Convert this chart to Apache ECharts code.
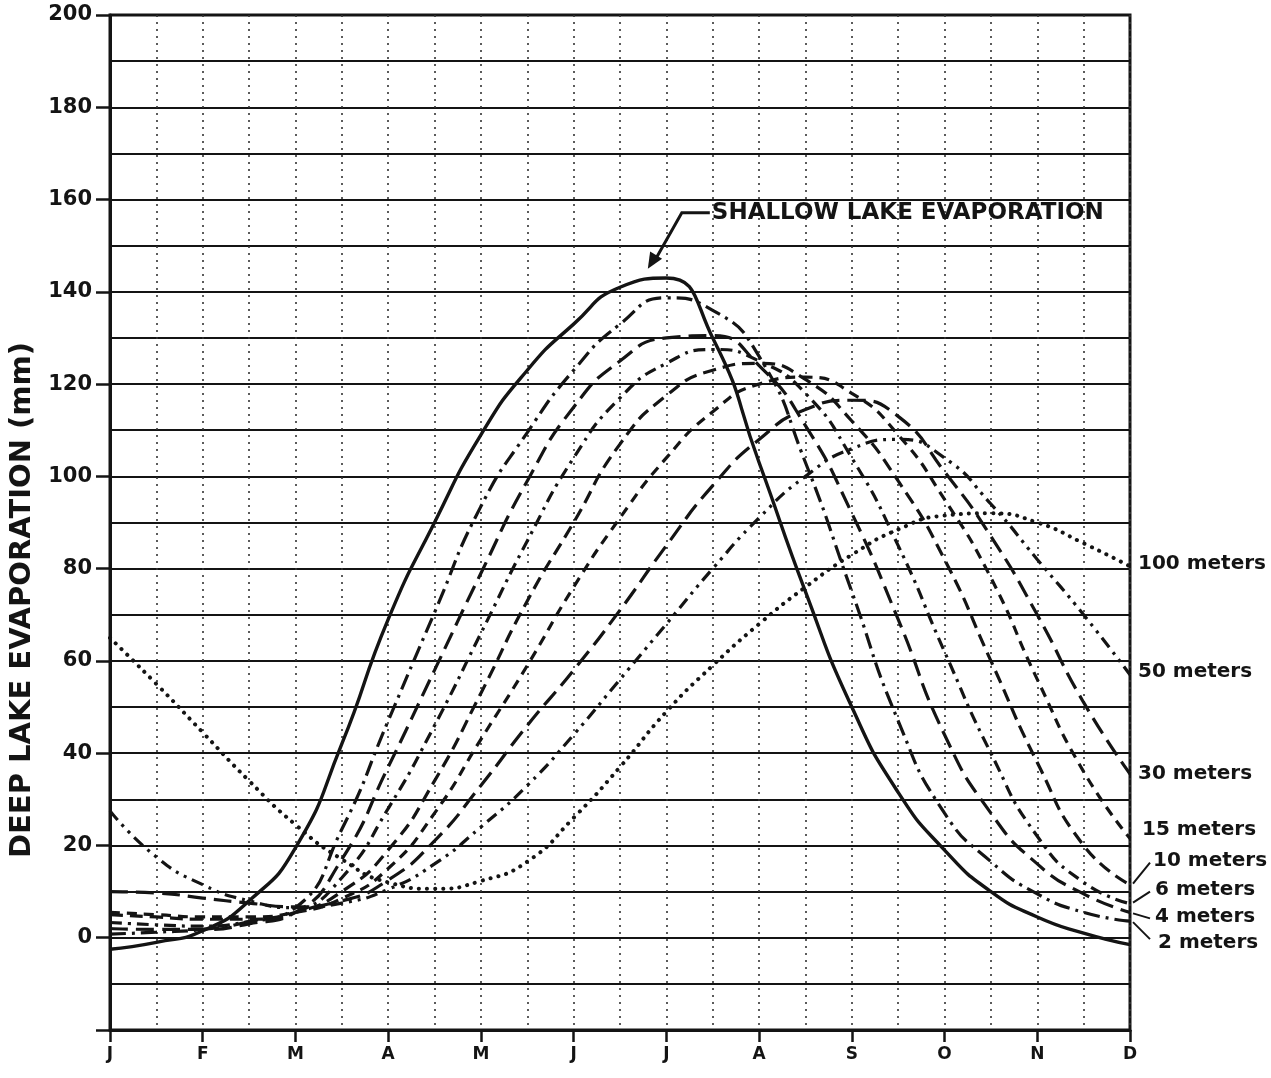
<!DOCTYPE html>
<html><head><meta charset="utf-8">
<script src="https://cdn.jsdelivr.net/npm/echarts@6/dist/echarts.min.js"></script>
<style>html,body{margin:0;padding:0;background:#fff}#c{width:1271px;height:1078px}</style>
</head><body><div id="c"></div>
<script>
// ---- data ----
const months = ['J','F','M','A','M','J','J','A','S','O','N','D'];
const halfMonths = [0,0.5,1,1.5,2,2.5,3,3.5,4,4.5,5,5.5,6,6.5,7,7.5,8,8.5,9,9.5,10,10.5,11];
const shallow = [-2.5,-1,1.5,8,19.5,42,69,90,109,123,133,141,143,130,103,75,50,31.5,19,10,4.5,1,-1.5];
const m2   = [0.8,1.2,1.8,3.5,6.5,23.5,47,70.5,93.5,109.5,123,133,138.7,136,126,103,75,47,27,16.5,9.5,5.5,3.6];
const m4   = [2,1.8,1.8,3,5.5,17,37,58,79,99,115,125,130,130.5,124,111,92,69,44,27,16,9.5,5.5];
const m6   = [3.3,2.8,2.5,3.5,5.5,13,28,46,66,86,104,117,124.5,127.5,125,118,104,85,62,40,22,12,7.4];
const m10  = [5,4.5,4,4,5.5,10,19,34,53,73,90,107,117.5,123,124.5,121,112,99,82,60,38,20,11.5];
const m15  = [5.5,5,4.5,4.5,5.5,8.5,15,27,43,59,76,91,104,114,120,121.5,118,109,95,78,56,36,21.5];
const m30  = [10,9.7,8.6,7.5,6.7,8,12.5,21,33,46,58,71,85,98,108,114.5,116.5,113,101,87,70,51,35.5];
const m50  = [27.5,17.5,11.5,8,6.5,7.5,10.5,16,24,33,44,56,68,80,91,100,106,108,104,94,82,70,57];
const m100 = [65,55,44.5,34,24.5,17,12,10.6,12.3,16.5,26,37,49,59,68,76,83,88.5,91.5,92,90,85.5,80.5];
const yTicks = [0,20,40,60,80,100,120,140,160,180,200];
const depthLabels = ['100 meters','50 meters','30 meters','15 meters','10 meters','6 meters','4 meters','2 meters'];
const annotation = 'SHALLOW LAKE EVAPORATION';
const yTitle = 'DEEP LAKE EVAPORATION (mm)';

const FONT = "'DejaVu Sans', sans-serif";
const INK = '#141414';
const pts = arr => halfMonths.map((x, i) => [x, arr[i]]);

function curve(name, arr, dash, label, off, width, cap) {
  return {
    name: name, type: 'line', data: pts(arr), smooth: 0.55, showSymbol: false, silent: true,
    lineStyle: { color: INK, width: width || 3.2, type: dash, cap: cap || 'butt' },
    endLabel: label ? { show: true, formatter: label, color: INK, fontFamily: FONT, fontWeight: 'bold',
      fontSize: 20, offset: off, distance: 6 } : { show: false }
  };
}

const chart = echarts.init(document.getElementById('c'));
chart.setOption({
  backgroundColor: '#fff',
  animation: false,
  grid: { left: 110, right: 141, top: 15, bottom: 48, show: true, borderColor: INK, borderWidth: 3 },
  xAxis: {
    type: 'value', min: 0, max: 11, interval: 1,
    axisLine: { show: true, onZero: false, lineStyle: { color: INK, width: 3 } },
    axisTick: { show: true, length: 12, lineStyle: { color: INK, width: 2.5 } },
    axisLabel: { formatter: v => months[v] || '', color: INK, fontFamily: FONT, fontWeight: 'bold', fontSize: 17, margin: 16 },
    splitLine: { show: true, lineStyle: { color: '#333', width: 1.6, type: [2, 5] } },
    minorTick: { show: false, splitNumber: 2 },
    minorSplitLine: { show: true, lineStyle: { color: '#333', width: 1.6, type: [2, 5] } }
  },
  yAxis: {
    type: 'value', min: -20, max: 200, interval: 20,
    axisLine: { show: true, lineStyle: { color: INK, width: 3 } },
    axisTick: { show: true, length: 14, lineStyle: { color: INK, width: 2.5 } },
    axisLabel: { formatter: v => (yTicks.indexOf(v) >= 0 ? String(v) : ''), color: INK, fontFamily: FONT,
      fontWeight: 'bold', fontSize: 21, margin: 18 },
    splitLine: { show: true, lineStyle: { color: INK, width: 2 } },
    minorTick: { show: false, splitNumber: 2 },
    minorSplitLine: { show: true, lineStyle: { color: INK, width: 2 } }
  },
  series: [
    curve('Shallow lake', shallow, 'solid', null, null, 3.4),
    curve('2 m', m2, [16, 6, 3, 6], depthLabels[7], [22, 22]),
    curve('4 m', m4, [18, 8], depthLabels[6], [19, 4]),
    curve('6 m', m6, [12, 6, 3, 6], depthLabels[5], [19, -14]),
    curve('10 m', m10, [13, 7], depthLabels[4], [17, -24]),
    curve('15 m', m15, [10, 7], depthLabels[3], [6, -9]),
    curve('30 m', m30, [18, 8], depthLabels[2], [2, 0]),
    curve('50 m', m50, [12, 6, 3, 6, 3, 6], depthLabels[1], [2, -3]),
    curve('100 m', m100, [0.1, 8], depthLabels[0], [2, -3], 4, 'round')
  ]
});

// annotation, leaders and axis title placed from library coordinates
function place() {
  const g = [];
  let pk = 0;
  shallow.forEach((v, i) => { if (v > shallow[pk]) pk = i; });
  const tip = chart.convertToPixel({ gridIndex: 0 }, [halfMonths[pk] - 0.2, shallow[pk] + 2]);
  const tx = tip[0] + 64, ty = tip[1] - 56;
  g.push({ type: 'text', x: tx, y: ty, style: { text: annotation, fill: INK, font: 'bold 23px ' + FONT,
    textAlign: 'left', textVerticalAlign: 'middle' } });
  g.push({ type: 'polyline', shape: { points: [[tx - 2, ty], [tx - 30, ty], [tip[0] + 8, tip[1] - 10]] },
    style: { stroke: INK, lineWidth: 3, fill: null } });
  const ang = Math.atan2(tip[1] - ty, tip[0] - (tx - 30));
  const L = 16, W = 7;
  const bx = tip[0] - L * Math.cos(ang), by = tip[1] - L * Math.sin(ang);
  g.push({ type: 'polygon', shape: { points: [[tip[0], tip[1]],
    [bx + W * Math.sin(ang), by - W * Math.cos(ang)], [bx - W * Math.sin(ang), by + W * Math.cos(ang)]] },
    style: { fill: INK } });
  const leaders = [[m10, -22], [m6, -12], [m4, 6], [m2, 18]];
  leaders.forEach(([arr, dy]) => {
    const p = chart.convertToPixel({ gridIndex: 0 }, [11, arr[arr.length - 1]]);
    g.push({ type: 'line', shape: { x1: p[0] + 3, y1: p[1] + (dy > 0 ? 1 : -1), x2: p[0] + 20, y2: p[1] + dy },
      style: { stroke: INK, lineWidth: 2 } });
  });
  g.push({ type: 'text', x: 22, y: 600, rotation: Math.PI / 2,
    style: { text: yTitle, fill: INK, font: 'bold 29px ' + FONT, textAlign: 'center', textVerticalAlign: 'middle' } });
  chart.setOption({ graphic: g });
}
place();
</script>
</body></html>
